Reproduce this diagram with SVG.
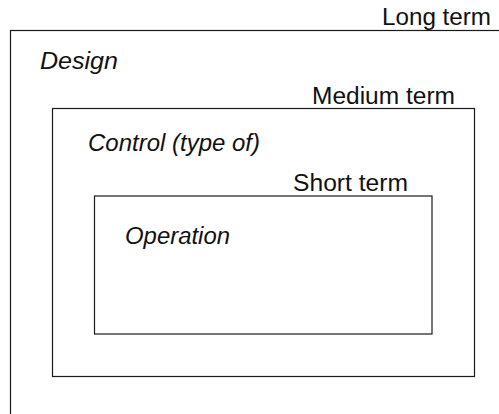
<svg xmlns="http://www.w3.org/2000/svg" width="499" height="414" viewBox="0 0 499 414">
  <style>
    .frame { fill: none; stroke: #1a1a1a; stroke-width: 1.2; }
    .term { font-family: "Liberation Sans", Arial, sans-serif; font-size: 23.5px; fill: #111; }
    .level { font-family: "Liberation Sans", Arial, sans-serif; font-size: 23.5px; font-style: italic; fill: #111; }
  </style>
  <rect width="499" height="414" fill="#ffffff"/>

  <!-- Long term: design -->
  <g id="long-term">
    <rect class="frame" x="10.5" y="30.5" width="520" height="420"/>
    <text class="term" x="382" y="25" textLength="109" lengthAdjust="spacingAndGlyphs">Long term</text>
    <text class="level" x="40" y="68.5" textLength="78" lengthAdjust="spacingAndGlyphs">Design</text>
  </g>

  <!-- Medium term: control -->
  <g id="medium-term">
    <rect class="frame" x="52.5" y="108.5" width="422" height="268"/>
    <text class="term" x="312" y="103.5" textLength="143" lengthAdjust="spacingAndGlyphs">Medium term</text>
    <text class="level" x="88" y="151" textLength="172" lengthAdjust="spacingAndGlyphs">Control (type of)</text>
  </g>

  <!-- Short term: operation -->
  <g id="short-term">
    <rect class="frame" x="94.5" y="196" width="337.5" height="138"/>
    <text class="term" x="293" y="190.5" textLength="115" lengthAdjust="spacingAndGlyphs">Short term</text>
    <text class="level" x="125" y="243.5" textLength="105" lengthAdjust="spacingAndGlyphs">Operation</text>
  </g>
</svg>
